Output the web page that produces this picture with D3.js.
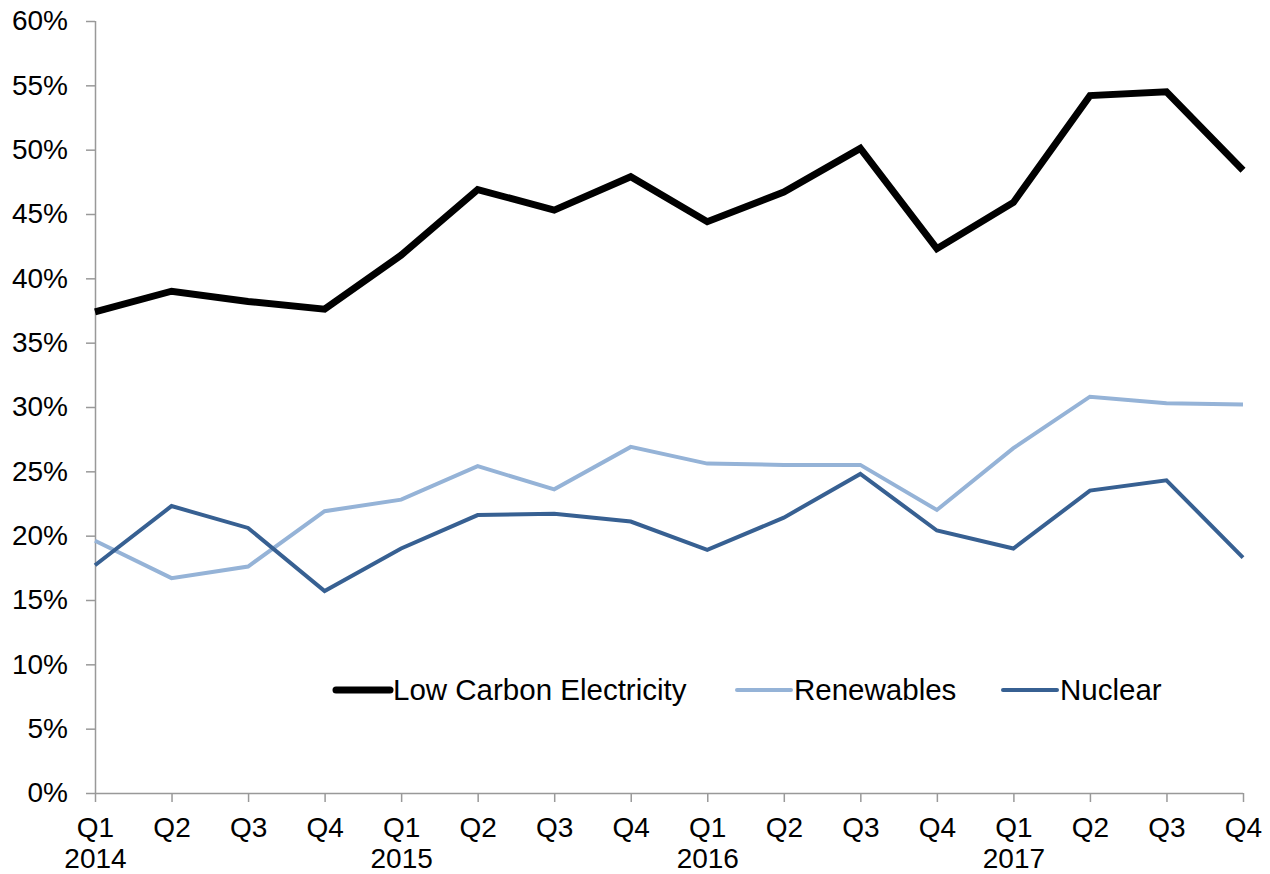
<!DOCTYPE html>
<html>
<head>
<meta charset="utf-8">
<script src="https://cdn.jsdelivr.net/npm/d3@7"></script>
<style>
  body { margin: 0; background: #fff; }
  text { font-family: Arial, "Liberation Sans", sans-serif; fill: #000; }
</style>
</head>
<body>
<div id="chart"></div>
<script>
var quarters = ["Q1","Q2","Q3","Q4","Q1","Q2","Q3","Q4","Q1","Q2","Q3","Q4","Q1","Q2","Q3","Q4"];
var years = ["2014","","","","2015","","","","2016","","","","2017","","",""];
var lowCarbon = [37.4, 39.0, 38.2, 37.6, 41.8, 46.9, 45.3, 47.9, 44.4, 46.7, 50.1, 42.3, 45.9, 54.2, 54.5, 48.4];
var renewables = [19.6, 16.7, 17.6, 21.9, 22.8, 25.4, 23.6, 26.9, 25.6, 25.5, 25.5, 22.0, 26.8, 30.8, 30.3, 30.2];
var nuclear = [17.7, 22.3, 20.6, 15.7, 19.0, 21.6, 21.7, 21.1, 18.9, 21.4, 24.8, 20.4, 19.0, 23.5, 24.3, 18.3];
var yTicks = [0, 5, 10, 15, 20, 25, 30, 35, 40, 45, 50, 55, 60];

var series = [
  { name: "Low Carbon Electricity", values: lowCarbon, color: "#000000", width: 7 },
  { name: "Renewables", values: renewables, color: "#95b3d7", width: 4 },
  { name: "Nuclear", values: nuclear, color: "#376092", width: 4 }
];

var W = 1270, H = 874;
var margin = ({ top: 21, right: 27, bottom: 81, left: 95 });
var width = W - margin.left - margin.right;
var height = H - margin.top - margin.bottom;

var svg = d3.select("#chart").append("svg")
    .attr("width", W)
    .attr("height", H);

var g = svg.append("g")
    .attr("transform", "translate(" + margin.left + "," + margin.top + ")");

var x = d3.scalePoint()
    .domain(d3.range(quarters.length))
    .range([0, width]);

var y = d3.scaleLinear()
    .domain([0, 60])
    .range([height, 0]);

// y axis
g.append("g")
    .call(d3.axisLeft(y).tickValues(yTicks).tickSize(9).tickPadding(18).tickFormat(d => d + "%"))
    .call(a => a.select(".domain").attr("stroke", "#999").attr("stroke-width", 1.5).attr("d", "M0.5," + height + "V0"))
    .call(a => a.selectAll(".tick line").attr("stroke", "#999").attr("stroke-width", 1.5))
    .call(a => a.selectAll(".tick text").attr("font-size", 28).attr("font-family", "Arial, 'Liberation Sans', sans-serif").attr("fill", "#000"));

// x axis
var xa = g.append("g")
    .attr("transform", "translate(0," + height + ")")
    .call(d3.axisBottom(x).tickSize(9).tickFormat(""))
    .call(a => a.select(".domain").attr("stroke", "#999").attr("stroke-width", 1.5).attr("d", "M0," + 0.5 + "H" + width));
xa.selectAll(".tick line").attr("stroke", "#999").attr("stroke-width", 1.5);

xa.selectAll(".tick").append("text")
    .attr("y", 44)
    .attr("text-anchor", "middle")
    .attr("font-size", 28)
    .text(d => quarters[d]);
xa.selectAll(".tick").append("text")
    .attr("y", 75)
    .attr("text-anchor", "middle")
    .attr("font-size", 28)
    .text(d => years[d]);

// lines
var line = d3.line()
    .x((d, i) => x(i))
    .y(d => y(d));

g.selectAll(".series")
    .data(series)
    .enter().append("path")
    .attr("class", "series")
    .attr("fill", "none")
    .attr("stroke", d => d.color)
    .attr("stroke-width", d => d.width)
    .attr("stroke-linejoin", "miter")
    .attr("d", d => line(d.values));

// legend
var legendX = [336, 737, 1003];
var legend = svg.append("g")
    .attr("transform", "translate(0,690)");
var items = legend.selectAll(".item")
    .data(series)
    .enter().append("g")
    .attr("transform", (d, i) => "translate(" + legendX[i] + ",0)");
items.append("line")
    .attr("x1", 0).attr("x2", 54)
    .attr("stroke", d => d.color)
    .attr("stroke-width", d => d.width)
    .attr("stroke-linecap", "round");
items.append("text")
    .attr("x", 57)
    .attr("dy", "0.35em")
    .attr("font-size", 29.5)
    .text(d => d.name);
</script>
</body>
</html>
